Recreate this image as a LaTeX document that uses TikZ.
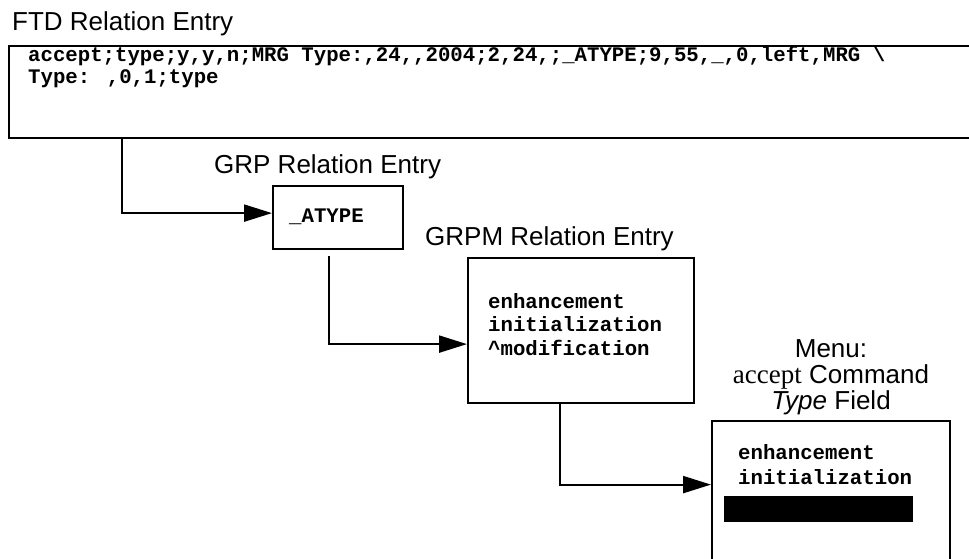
\documentclass[tikz,border=0pt]{standalone}
\usepackage{fontspec}
\setmainfont{Liberation Sans}
\newfontfamily\codefont{Liberation Mono}
\newfontfamily\romanfont{Liberation Serif}
\usetikzlibrary{arrows.meta}

\tikzset{
  entrybox/.style={draw, line width=2.2pt, inner sep=0pt, anchor=north west},
  title/.style={font=\fontsize{26}{29}\selectfont, inner sep=0pt, anchor=base west},
  menutitle/.style={font=\fontsize{26}{29}\selectfont, inner sep=0pt, anchor=base},
  code/.style={font=\codefont\bfseries\fontsize{20.7}{24}\selectfont, inner sep=0pt, anchor=base west},
  conn/.style={line width=2.2pt, -{Triangle[length=28pt,width=17pt]}},
}

\begin{document}
\begin{tikzpicture}[x=1pt, y=-1pt]
  \useasboundingbox (0,0) rectangle (969,558);
  \clip (0,0) rectangle (969,558);

  % FTD entry
  \node[title] (ftdtitle) at (12,30) {FTD Relation Entry};
  \node[entrybox, minimum width=990pt, minimum height=92pt] (ftd) at (8,45) {};
  \node[code] (ftdline1) at (28,61) {accept;type;y,y,n;MRG Type:,24,,2004;2,24,;\_ATYPE;9,55,\_,0,left,MRG \textbackslash};
  \node[code] (ftdline2) at (28,83) {Type: ,0,1;type};

  % GRP entry
  \node[title] (grptitle) at (214,173) {GRP Relation Entry};
  \node[entrybox, minimum width=130pt, minimum height=63pt] (grp) at (272,185) {};
  \node[code] (grptext) at (289,222) {\_ATYPE};

  % GRPM entry
  \node[title] (grpmtitle) at (425,245) {GRPM Relation Entry};
  \node[entrybox, minimum width=226pt, minimum height=145pt] (grpm) at (467,257) {};
  \node[code] (grpm1) at (488,308) {enhancement};
  \node[code] (grpm2) at (488,331) {initialization};
  \node[code] (grpm3) at (488,355) {\^{}modification};

  % Menu field
  \node[menutitle] (menu1) at (831,357) {Menu:};
  \node[menutitle] (menu2) at (831,383) {{\romanfont\fontsize{27}{29}\selectfont accept} Command};
  \node[menutitle] (menu3) at (831,409) {\textit{Type} Field};
  \node[entrybox, minimum width=238pt, minimum height=160pt] (menu) at (711,420) {};
  \node[code] (menutext1) at (738,459) {enhancement};
  \node[code] (menutext2) at (738,484) {initialization};
  \node[fill=black, inner sep=0pt, minimum width=189pt, minimum height=26pt, anchor=north west] (selbar) at (724,496) {};

  % connectors
  \draw[conn] ([xshift=114pt]ftd.south west) |- ([yshift=4.5pt]grp.west);
  \draw[conn] ([xshift=57pt,yshift=-6pt]grp.south west) |- ([yshift=-13.5pt]grpm.west);
  \draw[conn] ([xshift=93pt]grpm.south west) |- ([yshift=16.5pt]menu.west);
\end{tikzpicture}
\end{document}
